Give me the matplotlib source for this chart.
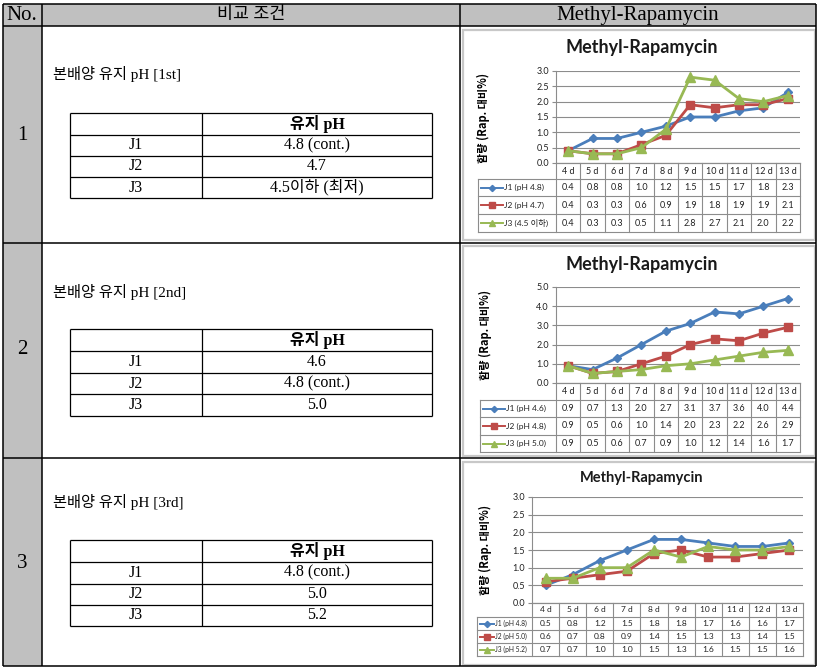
import matplotlib
matplotlib.use('Agg')
import matplotlib.pyplot as plt
from matplotlib.patches import Rectangle
from matplotlib.lines import Line2D
from matplotlib.transforms import blended_transform_factory
import numpy as np

# ---------------- data ----------------
categories = ['4 d', '5 d', '6 d', '7 d', '8 d', '9 d', '10 d', '11 d', '12 d', '13 d']

c1_labels = ['J1 (pH 4.8)', 'J2 (pH 4.7)', 'J3 (4.5 이하)']
c1_j1 = [0.4, 0.8, 0.8, 1.0, 1.2, 1.5, 1.5, 1.7, 1.8, 2.3]
c1_j2 = [0.4, 0.3, 0.3, 0.6, 0.9, 1.9, 1.8, 1.9, 1.9, 2.1]
c1_j3 = [0.4, 0.3, 0.3, 0.5, 1.1, 2.8, 2.7, 2.1, 2.0, 2.2]

c2_labels = ['J1 (pH 4.6)', 'J2 (pH 4.8)', 'J3 (pH 5.0)']
c2_j1 = [0.9, 0.7, 1.3, 2.0, 2.7, 3.1, 3.7, 3.6, 4.0, 4.4]
c2_j2 = [0.9, 0.5, 0.6, 1.0, 1.4, 2.0, 2.3, 2.2, 2.6, 2.9]
c2_j3 = [0.9, 0.5, 0.6, 0.7, 0.9, 1.0, 1.2, 1.4, 1.6, 1.7]

c3_labels = ['J1 (pH 4.8)', 'J2 (pH 5.0)', 'J3 (pH 5.2)']
c3_j1 = [0.5, 0.8, 1.2, 1.5, 1.8, 1.8, 1.7, 1.6, 1.6, 1.7]
c3_j2 = [0.6, 0.7, 0.8, 0.9, 1.4, 1.5, 1.3, 1.3, 1.4, 1.5]
c3_j3 = [0.7, 0.7, 1.0, 1.0, 1.5, 1.3, 1.6, 1.5, 1.5, 1.6]

header_labels = ['No.', '비교 조건', 'Methyl-Rapamycin']
row_numbers = ['1', '2', '3']
row_titles = ['본배양 유지 pH [1st]', '본배양 유지 pH [2nd]', '본배양 유지 pH [3rd]']
sub_header = '유지 pH'
sub_rows = ['J1', 'J2', 'J3']
sub_vals1 = ['4.8 (cont.)', '4.7', '4.5이하 (최저)']
sub_vals2 = ['4.6', '4.8 (cont.)', '5.0']
sub_vals3 = ['4.8 (cont.)', '5.0', '5.2']
chart_title = 'Methyl-Rapamycin'
y_label = '함량 (Rap. 대비%)'

# ---------------- figure ----------------
W, H = 819, 670
fig = plt.figure(figsize=(W / 100, H / 100), dpi=100)
fig.patch.set_facecolor('white')

def fx(x):
    return x / W

def fy(y):
    return 1 - y / H

SERIF = ['Liberation Serif', 'Noto Sans CJK KR']
SANS = ['Lato', 'Noto Sans CJK KR']
KR = ['Noto Sans CJK KR', 'DejaVu Sans']

def fline(x0, y0, x1, y1, lw=1.1, color='black'):
    fig.add_artist(Line2D([fx(x0), fx(x1)], [fy(y0), fy(y1)], transform=fig.transFigure,
                          color=color, lw=lw, solid_capstyle='butt'))

def frect(x0, y0, x1, y1, **kw):
    fig.add_artist(Rectangle((fx(x0), fy(y1)), (x1 - x0) / W, (y1 - y0) / H,
                             transform=fig.transFigure, **kw))

def ftext(x, y, s, **kw):
    fig.text(fx(x), fy(y), s, **kw)

# outer table
frect(3, 4, 816, 26, facecolor='#c0c0c0', edgecolor='none')
frect(3, 26, 42, 666, facecolor='#c0c0c0', edgecolor='none')
for yy in [4, 26, 243, 458, 666]:
    fline(3, yy, 816, yy)
for xx in [3, 42, 460, 816]:
    fline(xx, 4, xx, 666)

ftext(22, 15.5, header_labels[0], ha='center', va='center', fontsize=15, family=SERIF)
ftext(251, 15.5, header_labels[1], ha='center', va='center', fontsize=12.5, family=SERIF)
ftext(638, 15.5, header_labels[2], ha='center', va='center', fontsize=15, family=SERIF)

for num, yc in zip(row_numbers, [136, 350, 563]):
    ftext(22, yc, num, ha='center', va='center', fontsize=15, family=SERIF)

# nested tables
sub_specs = [
    (74, [113, 134.5, 156, 177, 198], sub_vals1),
    (292, [329, 351, 373, 394, 416], sub_vals2),
    (502, [540, 562, 583.5, 604.5, 626], sub_vals3),
]
for (ty, rows_y, vals), title in zip(sub_specs, row_titles):
    ftext(53, ty, title, ha='left', va='center', fontsize=11, family=SERIF)
    for yy in rows_y:
        fline(70, yy, 432, yy, lw=0.9)
    for xx in [70, 202, 432]:
        fline(xx, rows_y[0], xx, rows_y[-1], lw=0.9)
    yc = [(rows_y[i] + rows_y[i + 1]) / 2 for i in range(4)]
    ftext(317, yc[0], sub_header, ha='center', va='center', fontsize=11.5,
          family=SERIF, fontweight='bold')
    for i in range(3):
        ftext(136, yc[i + 1], sub_rows[i], ha='center', va='center', fontsize=11.5, family=SERIF)
        ftext(317, yc[i + 1], vals[i], ha='center', va='center', fontsize=11.5, family=SERIF)

# charts
colors = ['#4a7ebb', '#be4b48', '#98b954']
markers = ['D', 's', '^']
msizes = [4.5, 6, 6.5]
GRID = '#8c8c8c'

def draw_chart(box, title_y, title_size, plot, rows_y, leg_left, ylab_xy, series, labels,
               ymax, ystep, leg_font, leg_seg, val_font):
    frect(box[0], box[1], box[2], box[3], fill=False, edgecolor='#c8c8c8', lw=1.6)
    ftext((box[0] + box[2]) / 2 + 3, title_y, chart_title, ha='center', va='center',
          fontsize=title_size, fontweight='bold', family=SANS, color='#1a1a1a')
    ftext(ylab_xy[0], ylab_xy[1], y_label, ha='center', va='center', rotation=90,
          fontsize=8, fontweight='bold', family=KR)
    ax = fig.add_axes([fx(plot[0]), fy(plot[3]), (plot[2] - plot[0]) / W,
                       (plot[3] - plot[1]) / H])
    ax.set_facecolor('none')
    x = np.arange(len(categories))
    for vals, col, m, ms in zip(series, colors, markers, msizes):
        ax.plot(x, vals, color=col, lw=2, marker=m, ms=ms, mfc=col, mec=col,
                clip_on=False, zorder=3)
    ticks = np.arange(0, ymax + 1e-9, ystep)
    ax.set_yticks(ticks)
    ax.set_yticklabels([f'{t:.1f}' for t in ticks], fontsize=6.5, family=SANS, color='#222222')
    ax.set_xticks([])
    ax.yaxis.grid(True, color=GRID, lw=0.8)
    ax.set_axisbelow(True)
    ax.tick_params(axis='y', length=3, width=0.8, color=GRID, pad=2)
    for sp in ax.spines.values():
        sp.set_color(GRID)
        sp.set_linewidth(0.8)
    ax.spines['top'].set_visible(False)
    ax.spines['right'].set_visible(False)

    n = len(categories)
    def dx(px):
        return -0.5 + (px - plot[0]) / (plot[2] - plot[0]) * n
    tr = blended_transform_factory(ax.transData, fig.transFigure)
    xl = dx(leg_left)
    for k, yy in enumerate(rows_y):
        x0 = -0.5 if k == 0 else xl
        ax.add_line(Line2D([x0, n - 0.5], [fy(yy)] * 2, transform=tr, color=GRID, lw=0.8,
                           clip_on=False))
    for i in range(n + 1):
        ax.add_line(Line2D([i - 0.5] * 2, [fy(rows_y[0]), fy(rows_y[-1])], transform=tr,
                           color=GRID, lw=0.8, clip_on=False))
    ax.add_line(Line2D([xl] * 2, [fy(rows_y[1]), fy(rows_y[-1])], transform=tr,
                       color=GRID, lw=0.8, clip_on=False))
    yc = [(rows_y[i] + rows_y[i + 1]) / 2 for i in range(len(rows_y) - 1)]
    for i, c in enumerate(categories):
        ax.text(i, fy(yc[0]), c, transform=tr, ha='center', va='center', fontsize=val_font,
                family=SANS, color='#222222')
    for r, (vals, lab, col, m, ms) in enumerate(zip(series, labels, colors, markers, msizes)):
        yrow = fy(yc[r + 1])
        ax.add_line(Line2D([dx(leg_left + 3), dx(leg_left + 3 + leg_seg)], [yrow] * 2,
                           transform=tr, color=col, lw=1.4, clip_on=False))
        ax.add_line(Line2D([dx(leg_left + 3 + leg_seg / 2)], [yrow], transform=tr, marker=m,
                           ms=ms * 0.7, color=col, clip_on=False))
        ax.text(dx(leg_left + 4 + leg_seg), yrow, lab, transform=tr, ha='left', va='center',
                fontsize=leg_font, family=SANS, color='#222222')
        for i, v in enumerate(vals):
            ax.text(i, yrow, f'{v:.1f}', transform=tr, ha='center', va='center',
                    fontsize=val_font, family=SANS, color='#222222')
    ax.set_xlim(-0.5, n - 0.5)
    ax.set_ylim(0, ymax)
    return ax

draw_chart((463, 30, 815, 240), 48, 13, (556, 71, 800, 163), [163, 179, 196, 214, 232], 478,
           (483, 118), [c1_j1, c1_j2, c1_j3], c1_labels, 3.0, 0.5, 6, 22, 6.5)
draw_chart((463, 246, 815, 456), 265, 13, (556, 287, 800, 383), [383, 400, 417, 435, 452], 480,
           (485, 335), [c2_j1, c2_j2, c2_j3], c2_labels, 5.0, 1.0, 6, 22, 6.5)
draw_chart((463, 462, 815, 665), 478, 10.5, (532, 497, 803, 603), [603, 617, 630, 643, 656], 477,
           (485, 550), [c3_j1, c3_j2, c3_j3], c3_labels, 3.0, 0.5, 4.8, 14, 6)

fig.savefig('out.png', dpi=100)
